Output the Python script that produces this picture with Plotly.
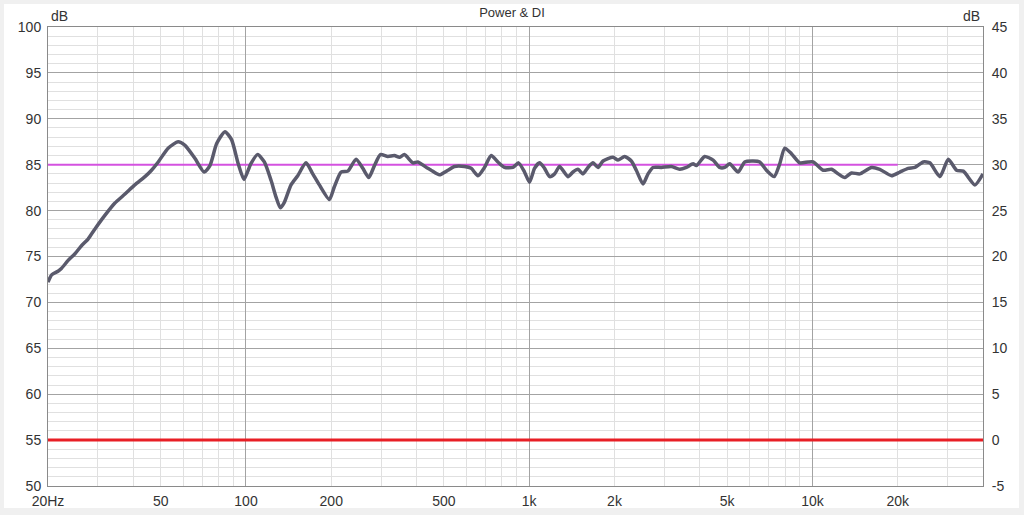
import math
import plotly.graph_objects as go

# ---- data ----
freq_hz = [20.0, 20.6, 21.7, 22.3, 23.6, 24.9, 26.3, 27.7, 29.3, 31.8,
           34.4, 37.4, 40.5, 44.0, 46.4, 49.0, 53.1, 57.6, 60.9, 66.0,
           71.2, 74.6, 78.8, 84.3, 89.0, 93.9, 98.4, 104, 110, 116.1,
           122.6, 127.6, 132.2, 136.6, 144.2, 152.3, 162.9, 172.1, 181.6, 197.0,
           205.1, 216.6, 228.8, 244.8, 258.5, 271.4, 284.1, 298.3, 316.8, 334.2,
           348.1, 362.6, 388.2, 404.4, 438.5, 450.5, 482.0, 516.1, 544.5, 590.7,
           624.0, 658.9, 695.0, 734.0, 775.1, 817.9, 876.0, 916.8, 962.6, 1002.5,
           1044, 1087.5, 1133, 1180, 1229, 1280, 1370, 1427, 1486, 1548,
           1612, 1680, 1749, 1822, 1976, 2058, 2171, 2293, 2388, 2522,
           2627, 2736, 2927, 3176, 3398, 3588, 3788, 3892, 4164, 4459,
           4704, 4898, 5104, 5465, 5765, 6172, 6514, 6879, 7322, 7664,
           7982, 8430, 9018, 9656, 10060, 10910, 11670, 12330, 13010, 13730,
           14690, 16160, 17290, 19020, 20350, 21790, 22990, 24620, 25970, 28170,
           30170, 32270, 34080, 37460, 40000]

power_db = [72.2, 73.0, 73.4, 73.7, 74.6, 75.3, 76.2, 76.9, 78.0, 79.5,
            80.8, 81.8, 82.8, 83.7, 84.4, 85.3, 86.8, 87.5, 87.1, 85.7,
            84.2, 84.9, 87.3, 88.6, 87.7, 85.1, 83.4, 85.1, 86.1, 85.3,
            83.3, 81.5, 80.3, 80.9, 82.8, 83.8, 85.2, 84.0, 82.8, 81.2,
            82.6, 84.2, 84.3, 85.6, 84.6, 83.6, 84.9, 86.1, 85.9, 86.0,
            85.8, 86.1, 85.2, 85.3, 84.6, 84.4, 83.9, 84.4, 84.8, 84.8,
            84.6, 83.8, 84.7, 86.0, 85.3, 84.7, 84.7, 85.2, 84.2, 83.1,
            84.6, 85.2, 84.6, 83.7, 84.0, 84.8, 83.7, 84.2, 84.5, 84.0,
            84.7, 85.2, 84.7, 85.4, 85.8, 85.5, 85.9, 85.4, 84.4, 82.9,
            84.0, 84.7, 84.7, 84.8, 84.5, 84.7, 85.1, 84.9, 85.9, 85.5,
            84.7, 84.7, 85.1, 84.2, 85.3, 85.4, 85.3, 84.4, 83.7, 85.1,
            86.8, 86.2, 85.2, 85.3, 85.3, 84.4, 84.5, 84.0, 83.6, 84.1,
            84.0, 84.7, 84.5, 83.8, 84.2, 84.6, 84.7, 85.3, 85.2, 83.7,
            85.6, 84.4, 84.3, 82.8, 84.0]

ref_freq = [20, 20000]
ref_db = [85, 85]

di_freq = [20, 40000]
di_db = [0, 0]

x_tickvals = [20, 50, 100, 200, 500, 1000, 2000, 5000, 10000, 20000]
x_ticktext = ["20Hz", "50", "100", "200", "500", "1k", "2k", "5k", "10k", "20k"]
x_decades = [100, 1000, 10000]
x_minor = [m * 10 ** d for d in range(1, 5) for m in range(1, 10) if 20 <= m * 10 ** d <= 40000]

left_ticks = list(range(50, 101, 5))
right_ticks = list(range(-5, 46, 5))
right_ticktext = [str(v) for v in right_ticks]

x_range = [math.log10(20), math.log10(40000)]

MAJOR = "#a3a3a3"
MINOR = "#e0e0e0"
FONT = "Liberation Sans"

fig = go.Figure()

fig.add_trace(go.Scatter(x=ref_freq, y=ref_db, mode="lines",
                         line=dict(color="#d452e0", width=2),
                         xaxis="x", yaxis="y", hoverinfo="skip"))
fig.add_trace(go.Scatter(x=di_freq, y=di_db, mode="lines",
                         line=dict(color="#e81e25", width=3),
                         xaxis="x2", yaxis="y2", hoverinfo="skip"))
fig.add_trace(go.Scatter(x=freq_hz, y=power_db, mode="lines",
                         line=dict(color="#5a5a6c", width=3.5, shape="spline", smoothing=0.6),
                         xaxis="x", yaxis="y"))

fig.update_layout(
    width=1024, height=515,
    margin=dict(l=48, r=41, t=27, b=29, autoexpand=False),
    paper_bgcolor="#f0f0f0",
    plot_bgcolor="white",
    showlegend=False,
    font=dict(family=FONT, size=14, color="#333333"),
    title=dict(text="Power & DI", x=0.5, xref="container", xanchor="center",
               y=1 - 12 / 515, yref="container", yanchor="middle",
               font=dict(family=FONT, size=13, color="#333333")),
    xaxis=dict(type="log", range=x_range, tickvals=x_tickvals, ticktext=x_ticktext,
               automargin=False,
               showgrid=False, showline=True, linecolor="#8a8a8a", linewidth=1, mirror=True,
               ticks="outside", ticklen=2, tickcolor="rgba(0,0,0,0)",
               tickfont=dict(size=14, color="#333333"),
               minor=dict(tickvals=x_minor, showgrid=True, gridcolor=MINOR, gridwidth=1, ticks=""),
               zeroline=False),
    xaxis2=dict(type="log", range=x_range, overlaying="x", side="bottom", automargin=False,
                tickvals=x_decades, showticklabels=False, ticks="",
                showgrid=True, gridcolor=MAJOR, gridwidth=1, showline=False, zeroline=False),
    yaxis=dict(range=[50, 100], tickvals=left_ticks, showgrid=True, gridcolor=MAJOR, gridwidth=1,
               automargin=False,
               showline=True, linecolor="#8a8a8a", linewidth=1, mirror=True,
               ticks="outside", ticklen=3, tickcolor="rgba(0,0,0,0)",
               tickfont=dict(size=14, color="#333333"),
               minor=dict(dtick=1, tick0=50, showgrid=True, gridcolor=MINOR, gridwidth=1, ticks=""),
               zeroline=False),
    yaxis2=dict(range=[-5, 45], tickvals=right_ticks, ticktext=right_ticktext,
                overlaying="y", side="right", automargin=False,
                anchor="x2", showgrid=False, showline=False, zeroline=False,
                ticks="outside", ticklen=5, tickcolor="rgba(0,0,0,0)",
                tickfont=dict(size=14, color="#333333")),
    shapes=[dict(type="rect", xref="paper", yref="paper",
                 x0=(4 - 48) / 935, x1=(1019 - 48) / 935,
                 y0=(486 - 508) / 459, y1=(486 - 4) / 459,
                 fillcolor="white", line=dict(width=0), layer="below")],
    annotations=[
        dict(text="dB", xref="paper", yref="paper", x=0, y=1, xanchor="left", yanchor="bottom",
             xshift=1, yshift=1, showarrow=False, font=dict(family=FONT, size=14, color="#333333")),
        dict(text="dB", xref="paper", yref="paper", x=1, y=1, xanchor="right", yanchor="bottom",
             xshift=-1, yshift=1, showarrow=False, font=dict(family=FONT, size=14, color="#333333")),
    ],
)

fig.write_html("out.html",
               config={"displayModeBar": False},
               post_script="document.body.style.margin='0';document.body.style.overflow='hidden';")
